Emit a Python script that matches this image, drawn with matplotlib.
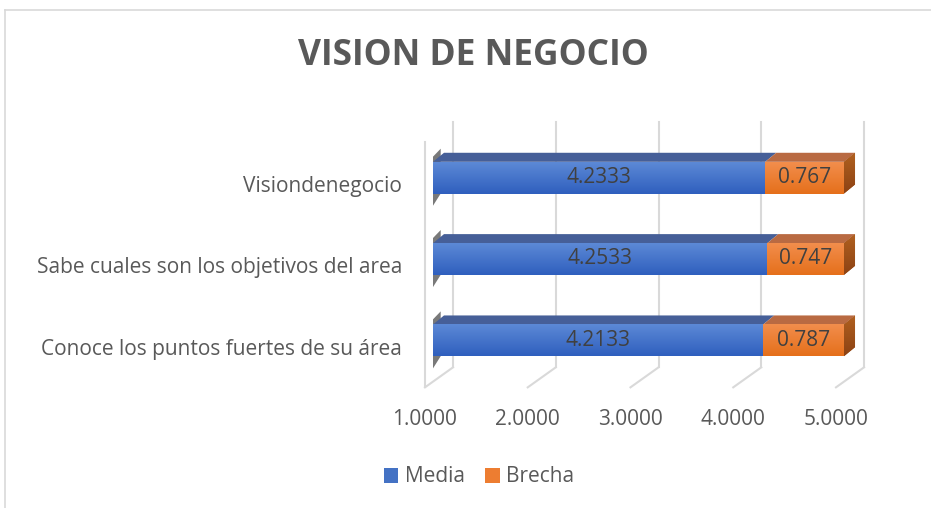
import numpy as np
import matplotlib
matplotlib.use("Agg")
import matplotlib.pyplot as plt
from matplotlib.patches import Polygon, Patch
from matplotlib.colors import LinearSegmentedColormap
from matplotlib.lines import Line2D

plt.rcParams['font.family'] = ['Open Sans', 'DejaVu Sans']

# data (bottom to top, as drawn)
categories = ["Conoce los puntos fuertes de su área",
              "Sabe cuales son los objetivos del area",
              "Visiondenegocio"]
media = [4.2133, 4.2533, 4.2333]
brecha = [0.787, 0.747, 0.767]
media_labels = ["4.2133", "4.2533", "4.2333"]
brecha_labels = ["0.787", "0.747", "0.767"]
ticks = [1, 2, 3, 4, 5]
tick_labels = ["1.0000", "2.0000", "3.0000", "4.0000", "5.0000"]

W, H = 931, 508
fig = plt.figure(figsize=(W / 100, H / 100), dpi=100)
# axes placed so x=1..5 spans the bar front plane
ax = fig.add_axes([433 / W, 1 - 381 / H, (844 - 433) / W, (381 - 137) / H])
ax.set_xlim(1, 5)
ax.set_ylim(-0.5, 2.5)
ax.axis('off')

txt = '#595959'
grid = '#D9D9D9'
h = 0.39            # bar thickness
dx, dy = 0.107, 0.111   # bar depth
bx, by_top, by_bot = 0.195, 2.683, -0.332   # back wall
fx, fy = -0.078, -0.578                     # front floor edge

# back wall gridlines and floor lines
for t in ticks:
    ax.add_line(Line2D([t + bx, t + bx], [by_bot, by_top], color=grid, lw=1.5, clip_on=False, zorder=1))
    ax.add_line(Line2D([t + bx, t + fx], [by_bot, fy], color=grid, lw=1.5, clip_on=False, zorder=1))
ax.add_line(Line2D([1 + fx, 1 + fx], [fy, 2.437], color=grid, lw=1.5, clip_on=False, zorder=1))

grad = np.linspace(0, 1, 64).reshape(-1, 1)
blue_cm = LinearSegmentedColormap.from_list('b', ['#2F5FBE', '#5C89D6'])
orange_cm = LinearSegmentedColormap.from_list('o', ['#E56F1B', '#F28E4C'])
side_cm = LinearSegmentedColormap.from_list('s', ['#8C4214', '#B0601F'])

y = np.arange(len(categories))
left0 = ticks[0]
b1 = ax.barh(y, np.array(media) - left0, left=left0, height=h, color='#4472C4', zorder=3)
b2 = ax.barh(y, brecha, left=media, height=h, color='#ED7D31', zorder=3)

for i in range(len(y)):
    yb, yt = y[i] - h / 2, y[i] + h / 2
    x0, xm, x1 = left0, media[i], media[i] + brecha[i]
    # left shadow
    ax.add_patch(Polygon([(x0 - 0.01, yb - 0.17), (x0 - 0.01, yt + 0.05), (x0 + dx * 0.7, yt + dy + 0.05),
                          (x0 + dx * 0.7, yb)], closed=True, color='#202020', alpha=0.6, lw=0, zorder=2))
    # gradients on front faces
    for bar, cm, xa, xb in [(b1[i], blue_cm, x0, xm), (b2[i], orange_cm, xm, x1)]:
        im = ax.imshow(grad, extent=(xa, xb, yb, yt), origin='lower', cmap=cm, aspect='auto', zorder=3.5)
        im.set_clip_path(bar)
    # top faces
    ax.add_patch(Polygon([(x0, yt), (xm, yt), (xm + dx, yt + dy), (x0 + dx, yt + dy)],
                         closed=True, color='#465F98', lw=0, zorder=3))
    ax.add_patch(Polygon([(xm, yt), (x1, yt), (x1 + dx, yt + dy), (xm + dx, yt + dy)],
                         closed=True, color='#B96A42', lw=0, zorder=3, clip_on=False))
    # right side face
    side = Polygon([(x1, yb), (x1, yt), (x1 + dx, yt + dy), (x1 + dx, yb + dy)],
                   closed=True, color='#A0521C', lw=0, zorder=3, clip_on=False)
    ax.add_patch(side)
    im = ax.imshow(grad, extent=(x1, x1 + dx, yb, yt + dy), origin='lower', cmap=side_cm,
                   aspect='auto', zorder=3.5)
    im.set_clip_box(fig.bbox)
    im.set_clip_path(side)
    # labels
    ax.text((x0 + xm) / 2, y[i], media_labels[i], ha='center', va='center', fontsize=15, color='#404040', zorder=5)
    ax.text((xm + x1) / 2, y[i], brecha_labels[i], ha='center', va='center', fontsize=15, color='#404040', zorder=5)
    ax.text(0.698, y[i] - 0.11, categories[i], ha='right', va='center', fontsize=15, color=txt, clip_on=False)

for t, lab in zip(ticks, tick_labels):
    ax.text(t + fx, -0.972, lab, ha='center', va='center', fontsize=15, color=txt, clip_on=False)

ax.set_xlim(1, 5)
ax.set_ylim(-0.5, 2.5)

fig.text(473.5 / W, 1 - 56 / H, "VISION DE NEGOCIO", ha='center', va='center',
         fontsize=25.5, fontweight='bold', color=txt)

handles = [Patch(facecolor='#4472C4', label='Media'), Patch(facecolor='#ED7D31', label='Brecha')]
fig.legend(handles=handles, loc='center', bbox_to_anchor=(479 / W, 1 - 477 / H), ncol=2, frameon=False,
           fontsize=15, labelcolor=txt, handlelength=0.7, handleheight=0.7, handletextpad=0.3,
           columnspacing=1.0)

# chart border
fig.add_artist(Line2D([5 / W, 1], [1 - 10 / H, 1 - 10 / H], color=grid, lw=1.2))
fig.add_artist(Line2D([5 / W, 5 / W], [1 - 10 / H, 0], color=grid, lw=1.2))

fig.savefig("out.png", dpi=100)
